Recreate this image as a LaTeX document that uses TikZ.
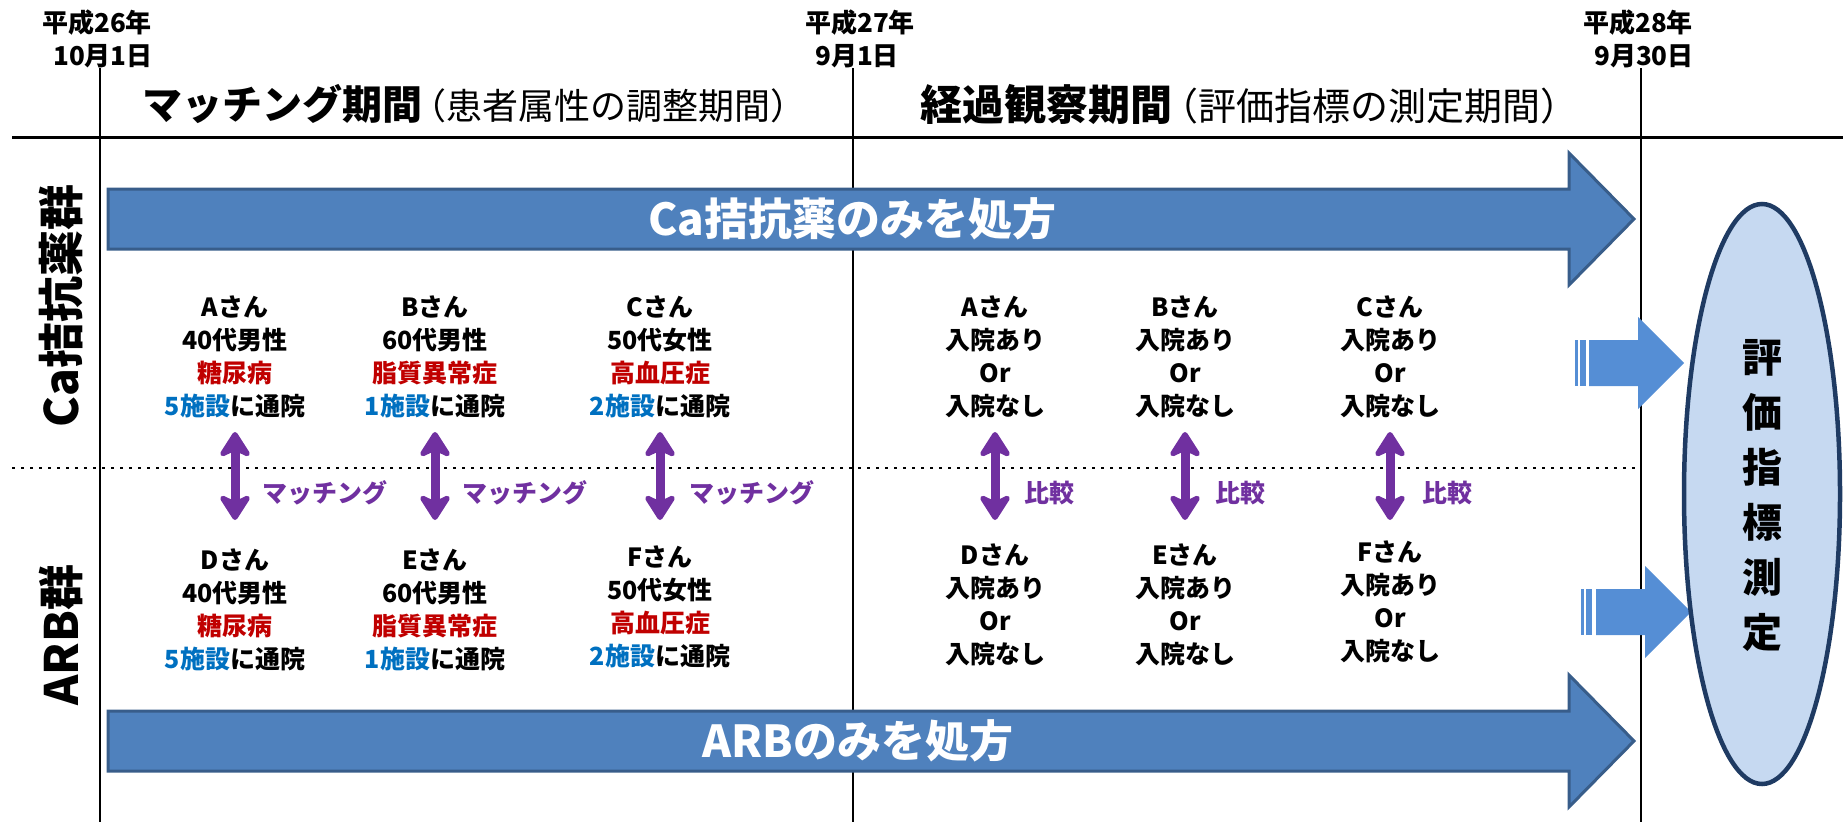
\documentclass[tikz,border=0pt]{standalone}
\usepackage{fontspec}
\setmainfont{Noto Sans CJK JP}
\usetikzlibrary{arrows.meta}
\definecolor{bigblue}{HTML}{4F81BD}
\definecolor{bigedge}{HTML}{385D8A}
\definecolor{smallblue}{HTML}{558ED5}
\definecolor{ellfill}{HTML}{C6D9F1}
\definecolor{elledge}{HTML}{1F3B63}
\definecolor{dred}{HTML}{C00000}
\definecolor{dblue}{HTML}{0070C0}
\definecolor{purp}{HTML}{7030A0}
\begin{document}
\begin{tikzpicture}[x=1pt,y=-1pt,
  datelbl/.style={font=\bfseries\fontsize{26}{33}\selectfont, inner sep=0pt},
  grouplbl/.style={font=\bfseries\fontsize{46}{52}\selectfont, rotate=90, inner sep=0pt},
  bigarrow/.style={fill=bigblue, draw=bigedge, line width=3pt, line join=miter},
  bigtext/.style={font=\bfseries\fontsize{44}{50}\selectfont, text=white, inner sep=0pt},
  smallarrow/.style={fill=smallblue, draw=none},
  patient/.style={font=\bfseries\fontsize{25}{33}\selectfont, align=center, inner sep=0pt},
  matchlbl/.style={font=\bfseries\fontsize{25}{30}\selectfont, text=purp, inner sep=0pt},
  parrow/.style={draw=purp, line width=9pt, {Stealth[round,length=30pt,width=38pt,inset=9pt]}-{Stealth[round,length=30pt,width=38pt,inset=9pt]}},
  gridline/.style={line width=2.5pt, draw=black},
]
\useasboundingbox (0,0) rectangle (1843,822);

% grid lines
\draw[line width=3pt] (12,137) -- (1843,137);
\draw[gridline] (100,68) -- (100,822);
\draw[gridline] (853,68) -- (853,822);
\draw[gridline] (1641,68) -- (1641,822);
\draw[line width=2.5pt, dash pattern=on 2.5pt off 6.5pt] (12,468) -- (1641,468);

% date labels
\node[datelbl] (d1a) at (97,23) {平成26年};
\node[datelbl] (d1b) at (103,56) {10月1日};
\node[datelbl] (d2a) at (860,23) {平成27年};
\node[datelbl] (d2b) at (857,56) {9月1日};
\node[datelbl] (d3a) at (1638,23) {平成28年};
\node[datelbl] (d3b) at (1644,56) {9月30日};

% titles
\node (t1) at (474,104) {\fontsize{40}{48}\selectfont\bfseries マッチング期間\kern-12pt\mdseries\fontsize{36}{42}\selectfont （患者属性の調整期間）};
\node (t2) at (1249,104) {\fontsize{42}{48}\selectfont\bfseries 経過観察期間\kern-12pt\mdseries\fontsize{38}{42}\selectfont （評価指標の測定期間）};

% group labels
\node[grouplbl] (g1) at (61,306) {Ca拮抗薬群};
\node[grouplbl] (g2) at (61,635) {ARB群};

% big arrows
\draw[bigarrow] (108,189) -- (1569,189) -- (1569,153) -- (1634,219) -- (1569,285) -- (1569,249) -- (108,249) -- cycle;
\node[bigtext] (a1) at (852,219) {Ca拮抗薬のみを処方};
\draw[bigarrow] (108,711) -- (1569,711) -- (1569,675) -- (1634,741) -- (1569,807) -- (1569,771) -- (108,771) -- cycle;
\node[bigtext] (a2) at (858,741) {ARBのみを処方};

% small arrows
\fill[smallarrow] (1575,340) rectangle (1578,386);
\fill[smallarrow] (1580,340) rectangle (1586,386);
\fill[smallarrow] (1589,340) -- (1638,340) -- (1638,317) -- (1684,363) -- (1638,409) -- (1638,386) -- (1589,386) -- cycle;
\fill[smallarrow] (1581,589) rectangle (1584,635);
\fill[smallarrow] (1586,589) rectangle (1592,635);
\fill[smallarrow] (1596,589) -- (1645,589) -- (1645,566) -- (1691,612) -- (1645,658) -- (1645,635) -- (1596,635) -- cycle;

% evaluation ellipse
\draw[fill=ellfill, draw=elledge, line width=4.5pt] (1762,494) ellipse [x radius=78, y radius=290];
\node[font=\bfseries\fontsize{40}{55}\selectfont, align=center, inner sep=0pt] (ev) at (1762,496) {評\\価\\指\\標\\測\\定};

% patients, matching period
\node[patient] (pA) at (235,357) {Aさん\\40代男性\\\textcolor{dred}{糖尿病}\\\textcolor{dblue}{5施設}に通院};
\node[patient] (pB) at (435,357) {Bさん\\60代男性\\\textcolor{dred}{脂質異常症}\\\textcolor{dblue}{1施設}に通院};
\node[patient] (pC) at (660,357) {Cさん\\50代女性\\\textcolor{dred}{高血圧症}\\\textcolor{dblue}{2施設}に通院};
\node[patient] (pD) at (235,610) {Dさん\\40代男性\\\textcolor{dred}{糖尿病}\\\textcolor{dblue}{5施設}に通院};
\node[patient] (pE) at (435,610) {Eさん\\60代男性\\\textcolor{dred}{脂質異常症}\\\textcolor{dblue}{1施設}に通院};
\node[patient] (pF) at (660,607) {Fさん\\50代女性\\\textcolor{dred}{高血圧症}\\\textcolor{dblue}{2施設}に通院};

% patients, observation period
\node[patient] (qA) at (995,357) {Aさん\\入院あり\\Or\\入院なし};
\node[patient] (qB) at (1185,357) {Bさん\\入院あり\\Or\\入院なし};
\node[patient] (qC) at (1390,357) {Cさん\\入院あり\\Or\\入院なし};
\node[patient] (qD) at (995,605) {Dさん\\入院あり\\Or\\入院なし};
\node[patient] (qE) at (1185,605) {Eさん\\入院あり\\Or\\入院なし};
\node[patient] (qF) at (1390,602) {Fさん\\入院あり\\Or\\入院なし};

% arrow end coordinates
\foreach \n/\x in {A/235,B/435,C/660,D/995,E/1185,F/1390}{
  \coordinate (u\n) at (\x,432);
  \coordinate (l\n) at (\x,520);
}
\draw[parrow] (uA) -- (lA);
\draw[parrow] (uB) -- (lB);
\draw[parrow] (uC) -- (lC);
\draw[parrow] (uD) -- (lD);
\draw[parrow] (uE) -- (lE);
\draw[parrow] (uF) -- (lF);

\node[matchlbl] (m1) at (325,493) {マッチング};
\node[matchlbl] (m2) at (525,493) {マッチング};
\node[matchlbl] (m3) at (752,493) {マッチング};
\node[matchlbl] (c1) at (1049,493) {比較};
\node[matchlbl] (c2) at (1240,493) {比較};
\node[matchlbl] (c3) at (1447,493) {比較};
\end{tikzpicture}
\end{document}
